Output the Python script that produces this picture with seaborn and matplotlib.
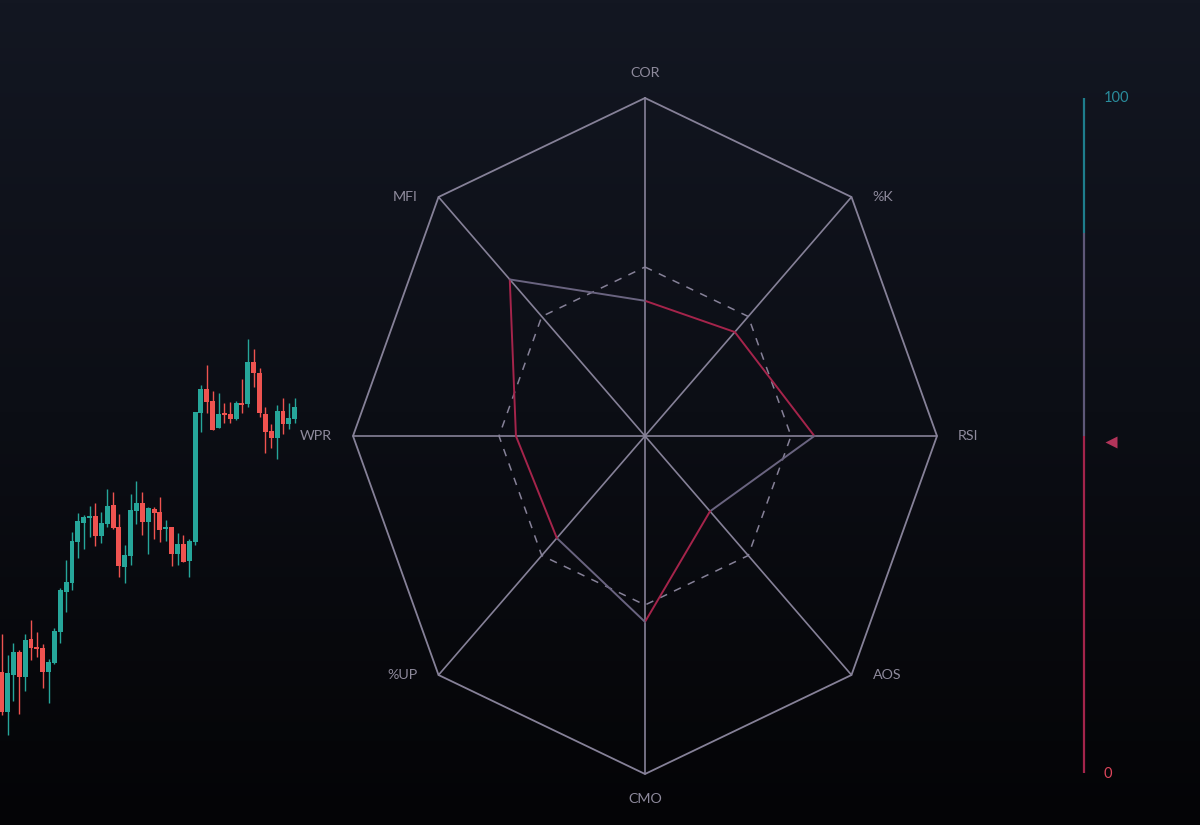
import numpy as np
import pandas as pd
import matplotlib
matplotlib.use("Agg")
import matplotlib.pyplot as plt
import seaborn as sns
from matplotlib.colors import LinearSegmentedColormap

# ---------------- data ----------------
indicators = ["COR", "%K", "RSI", "AOS", "CMO", "%UP", "WPR", "MFI"]
indicator_values = [40.0, 43.5, 58.0, 31.5, 55.0, 42.7, 44.2, 65.5]
reference_level = 50
gauge_value = 49
gauge_zones = [0, 50, 80, 100]
gauge_labels = ["0", "100"]

candle_open = [68.3, 28.3, 65.0, 88.3, 63.3, 100.7, 92.7, 91.7, 68.3, 77.3,
               108.3, 148.3, 157.3, 198.3, 217.3, 221.7, 224.0, 204.3, 216.0, 235.3,
               213.3, 173.3, 184.3, 229.3, 237.3, 218.3, 231.3, 227.7, 210.7, 213.3,
               186.0, 195.7, 179.3, 197.7, 327.3, 350.7, 339.3, 312.3, 326.7, 325.7,
               320.7, 336.7, 335.7, 378.3, 367.3, 325.7, 309.3, 301.7, 329.0, 315.7, 321.0]
candle_high = [106.0, 85.0, 96.7, 90.0, 106.0, 120.0, 108.3, 96.0, 80.7, 111.7,
               151.7, 180.0, 208.3, 227.3, 225.0, 234.3, 236.7, 228.3, 250.7, 248.0,
               226.0, 195.0, 246.0, 259.0, 248.0, 233.3, 232.7, 243.3, 220.0, 213.3,
               207.3, 205.0, 200.7, 328.3, 355.0, 375.0, 349.0, 347.3, 337.3, 338.3,
               339.3, 360.7, 400.7, 391.0, 372.3, 333.3, 316.0, 335.0, 341.7, 337.3, 341.7]
candle_low = [25.0, 5.0, 39.3, 26.0, 49.3, 80.0, 83.3, 51.7, 36.7, 76.0,
              96.7, 128.3, 150.0, 182.3, 190.7, 203.3, 194.3, 196.7, 212.7, 210.7,
              162.7, 157.3, 175.0, 216.0, 205.0, 186.0, 200.7, 198.0, 199.3, 174.3,
              175.0, 178.3, 162.7, 195.0, 308.3, 326.7, 310.0, 311.7, 317.3, 317.3,
              320.0, 327.3, 332.7, 353.3, 322.7, 286.7, 291.7, 281.0, 306.0, 311.0, 317.3]
candle_close = [28.3, 66.7, 88.3, 63.3, 100.0, 91.7, 90.7, 68.3, 78.3, 109.3,
                150.0, 157.7, 199.3, 219.0, 222.7, 224.0, 204.0, 217.3, 234.3, 211.7,
                174.3, 185.0, 230.0, 237.3, 218.3, 232.3, 226.7, 210.0, 213.0, 186.0,
                195.7, 178.3, 199.3, 327.7, 350.7, 338.3, 310.0, 325.7, 324.7, 320.7,
                336.7, 335.0, 378.3, 366.7, 326.7, 308.3, 301.7, 328.7, 315.7, 321.7, 333.3]

# ---------------- style ----------------
W, H = 1200, 825
sns.set_theme(style="dark")
plt.rcParams["font.family"] = ["Lato", "DejaVu Sans"]

GRID = "#868198"
LABEL = "#8e8a9c"
UP = "#26a69a"
DOWN = "#ef5350"
SEG_UP = "#a5244b"
SEG_DOWN = "#6a6480"

fig = plt.figure(figsize=(W / 100, H / 100), dpi=100)
fig.patch.set_facecolor("#0a0c12")


def px_axes(left, top, width, height, z=1):
    ax = fig.add_axes([left / W, 1 - (top + height) / H, width / W, height / H], zorder=z)
    ax.set_facecolor("none")
    ax.set_axis_off()
    return ax


# background gradient
bg = px_axes(0, 0, W, H, z=0)
cmap = LinearSegmentedColormap.from_list("bg", ["#131722", "#0c0e15", "#040406"])
bg.imshow(np.linspace(0, 1, 256).reshape(-1, 1), aspect="auto", cmap=cmap,
          extent=[0, 1, 0, 1], origin="upper")
bg.set_xlim(0, 1)
bg.set_ylim(0, 1)

# ---------------- candlesticks ----------------
cx = px_axes(0, 300, 300, 460, z=1)
df = pd.DataFrame({"open": candle_open, "high": candle_high,
                   "low": candle_low, "close": candle_close})
df["idx"] = np.arange(len(df))
df["up"] = df["close"] >= df["open"]
df["color"] = np.where(df["up"], UP, DOWN)
body_bottom = np.minimum(df["open"], df["close"])
body_h = np.maximum(np.abs(df["close"] - df["open"]), 1.6)
cx.vlines(df["idx"], df["low"], df["high"], colors=df["color"], lw=1.0)
cx.bar(df["idx"], body_h, bottom=body_bottom, width=0.84, color=df["color"], linewidth=0)
cx.set_xlim(-1.7 / 5.86, (300 - 1.7) / 5.86)
cx.set_ylim(-20, 440)

# ---------------- radar ----------------
CX, CY, RX, RY = 645, 436, 292, 338
rx = px_axes(CX - 1.2 * RX, CY - 1.15 * RY, 2.4 * RX, 2.3 * RY, z=2)
rx.set_xlim(-1.2, 1.2)
rx.set_ylim(-1.15, 1.15)

n = len(indicators)
ang = np.deg2rad(90 - 360 / n * np.arange(n))
ux, uy = np.cos(ang), np.sin(ang)

outer = pd.DataFrame({"x": np.append(ux, ux[0]), "y": np.append(uy, uy[0])})
sns.lineplot(data=outer, x="x", y="y", sort=False, estimator=None, color=GRID, lw=1.3, ax=rx)
for a, b in zip(ux, uy):
    rx.plot([0, a], [0, b], color=GRID, lw=1.2)
ring = pd.DataFrame({"x": np.append(ux, ux[0]) * reference_level / 100,
                     "y": np.append(uy, uy[0]) * reference_level / 100})
sns.lineplot(data=ring, x="x", y="y", sort=False, estimator=None, color=GRID,
             lw=1.1, ax=rx, linestyle=(0, (5, 5)))

vals = np.array(indicator_values) / 100
px_, py_ = ux * vals, uy * vals
for i in range(n):
    j = (i + 1) % n
    c = SEG_UP if vals[j] > vals[i] else SEG_DOWN
    rx.plot([px_[i], px_[j]], [py_[i], py_[j]], color=c, lw=1.4, solid_capstyle="round")

for name, a, b in zip(indicators, ux, uy):
    if abs(a) < 1e-6:
        off = (0, 25 if b > 0 else -25)
        ha = "center"
    else:
        off = (21 if a > 0 else -21, 0)
        ha = "left" if a > 0 else "right"
    rx.annotate(name, (a, b), xytext=off, textcoords="offset pixels",
                ha=ha, va="center", color=LABEL, fontsize=10.3)
rx.set_xlabel("")
rx.set_ylabel("")

# ---------------- gauge ----------------
gx = px_axes(1074, 98, 80, 675, z=2)
gx.set_xlim(0, 80)
gx.set_ylim(0, 100)
zone_colors = ["#a3244b", "#5e5878", "#1e7d8c"]
for lo, hi, c in zip(gauge_zones[:-1], gauge_zones[1:], zone_colors):
    gx.plot([10, 10], [lo, hi], color=c, lw=1.6, solid_capstyle="butt")
gx.plot([37], [gauge_value], marker="<", ms=8, color="#b3345a", mec="none")
gx.text(30, 100, gauge_labels[1], color="#2a8c9c", fontsize=10.5, ha="left", va="center")
gx.text(29, -0.2, gauge_labels[0], color="#dd455b", fontsize=10.5, ha="left", va="center")

fig.savefig("out.png", dpi=100, facecolor=fig.get_facecolor())
